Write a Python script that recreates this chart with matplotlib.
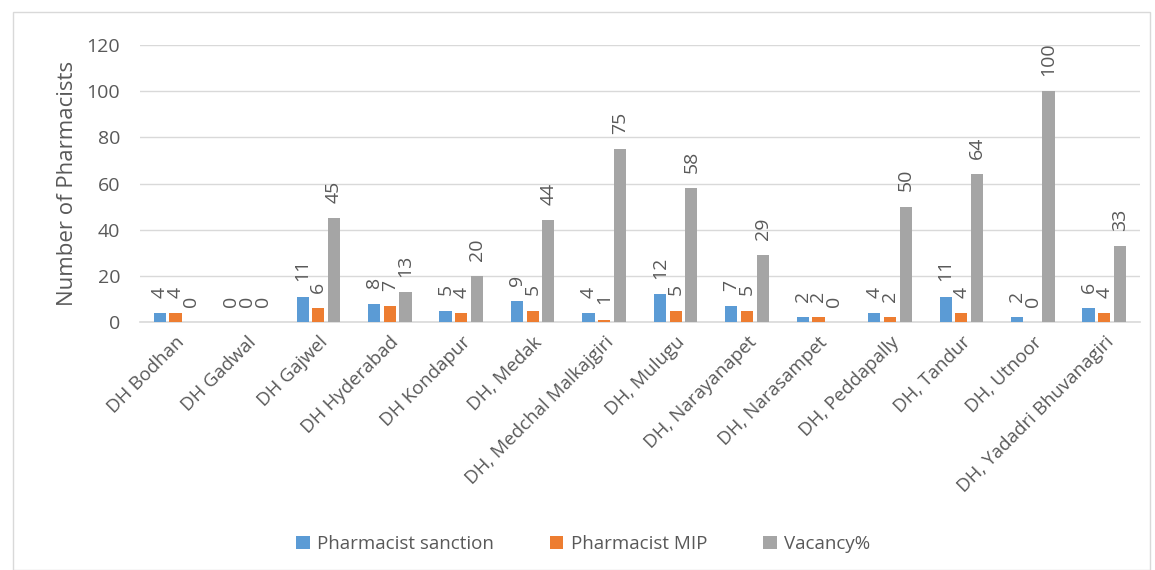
import matplotlib
matplotlib.use("Agg")
import matplotlib.pyplot as plt
import numpy as np

categories = ["DH Bodhan", "DH Gadwal", "DH Gajwel", "DH Hyderabad", "DH Kondapur",
              "DH, Medak", "DH, Medchal Malkajgiri", "DH, Mulugu", "DH, Narayanapet",
              "DH, Narasampet", "DH, Peddapally", "DH, Tandur", "DH, Utnoor",
              "DH, Yadadri Bhuvanagiri"]
sanction = [4, 0, 11, 8, 5, 9, 4, 12, 7, 2, 4, 11, 2, 6]
mip = [4, 0, 6, 7, 4, 5, 1, 5, 5, 2, 2, 4, 0, 4]
vacancy = [0, 0, 45, 13, 20, 44, 75, 58, 29, 0, 50, 64, 100, 33]
series_names = ["Pharmacist sanction", "Pharmacist MIP", "Vacancy%"]
colors = ["#5B9BD5", "#ED7D31", "#A5A5A5"]

plt.rcParams['font.family'] = ['Open Sans', 'DejaVu Sans']
txt = "#595959"

fig = plt.figure(figsize=(11.55, 5.7), dpi=100)
ax = fig.add_axes([0.121, 0.435, 0.866, 0.486])

x = np.arange(len(categories))
w = 0.17
offs = [-0.22, 0.0, 0.22]
for vals, name, c, o in zip([sanction, mip, vacancy], series_names, colors, offs):
    ax.bar(x + o, vals, width=w, color=c, label=name, zorder=3)
    for xi, v in zip(x + o, vals):
        ax.annotate(str(v), (xi, v), xytext=(0, 11), textcoords="offset points",
                    rotation=90, ha="center", va="bottom", fontsize=14, color=txt)

ax.set_ylim(0, 120)
ax.set_xlim(-0.5, len(categories) - 0.5)
ax.set_yticks(range(0, 121, 20))
ax.yaxis.grid(True, color="#D9D9D9", linewidth=1, zorder=0)
for s in ["top", "right", "left"]:
    ax.spines[s].set_visible(False)
ax.spines["bottom"].set_color("#D9D9D9")
ax.spines["bottom"].set_linewidth(1.2)
ax.tick_params(axis="y", length=0, labelsize=14, labelcolor=txt, pad=14)
ax.tick_params(axis="x", length=0, labelsize=13.5, labelcolor=txt, pad=8)
ax.set_xticks(x)
ax.set_xticklabels(categories, rotation=45, ha="right", rotation_mode="anchor")
ax.set_ylabel("Number of Pharmacists", fontsize=16, color=txt, labelpad=6)

fig.legend(loc="lower center", bbox_to_anchor=(0.505, 0.0), ncol=3, frameon=False,
           fontsize=13.5, labelcolor=txt, handlelength=0.7, handleheight=0.7,
           columnspacing=3.0, handletextpad=0.4)

border = plt.Rectangle((0.011, 0.0), 0.985, 0.979, transform=fig.transFigure,
                       fill=False, edgecolor="#D9D9D9", linewidth=1)
fig.patches.append(border)

fig.savefig("out.png", dpi=100)
